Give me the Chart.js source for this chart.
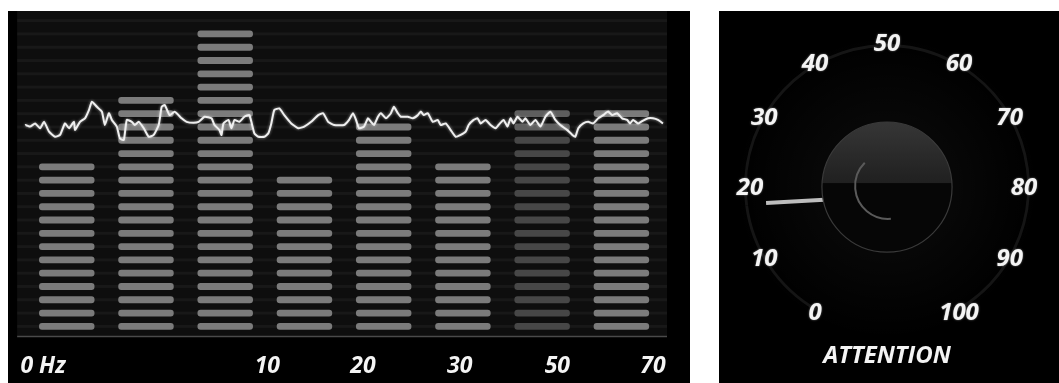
<!DOCTYPE html>
<html><head><meta charset="utf-8">
<script src="https://cdn.jsdelivr.net/npm/chart.js@4.4.1/dist/chart.umd.min.js"></script>
<style>
html,body{margin:0;padding:0;background:#fff;width:1059px;height:383px;overflow:hidden}
#lp{position:absolute;left:8px;top:11px;width:682px;height:372px;background:#000}
#rp{position:absolute;left:719px;top:11px;width:340px;height:372px;background:#000}
canvas{display:block}
</style></head><body>
<div id="lp"><canvas id="c1" width="682" height="372"></canvas></div>
<div id="rp"><canvas id="c2" width="340" height="372"></canvas></div>
<script>
// ---- data ----
const bandNames = ['Delta','Theta','Low Alpha','High Alpha','Low Beta','High Beta','Low Gamma','Mid Gamma'];
const bandLevels = [13,18,23,12,16,13,17,17];
const freqLabels = ['0 Hz','10','20','30','50','70'];
const freqTickPos = [16,241,337,434,532,628];
const rawT = [-7,-2,3,8,13,17,22,28,33,38,42,47,48,53,58,62,65,70,75,78,82,85,90,93,97,100,105,108,112,117,122,127,132,135,138,143,148,155,160,167,172,178,185,188,193,195,197,202,205,208,213,218,223,228,232,238,242,245,248,253,258,265,272,278,285,292,297,302,308,318,323,327,330,333,338,342,345,348,352,355,360,365,368,372,375,382,387,392,395,398,402,407,412,415,420,425,430,435,440,443,448,452,455,460,465,470,473,478,482,485,488,492,497,500,505,510,515,520,525,530,535,542,547,550,553,558,563,568,573,578,583,587,592,597,602,605,608,613,618,623,628,633,638];
const rawAmp = [63.1,65.2,64.7,65.7,64.2,66.2,63.1,61.5,62.1,65.7,64.2,66.2,63.6,66.2,67.3,69.9,72.5,70.9,69.4,65.2,68.9,66.8,64.7,61.0,60.5,66.8,66.2,65.2,66.2,64.2,61.5,62.1,65.2,70.9,71.5,68.3,69.4,67.3,66.2,65.9,66.2,67.8,67.3,65.2,63.6,62.1,65.7,66.8,64.2,66.8,66.2,67.8,68.3,62.6,61.5,61.5,62.6,65.7,69.9,70.4,68.3,65.7,64.2,64.7,66.2,68.3,68.9,66.2,65.2,65.2,66.8,68.9,66.8,64.2,64.7,67.3,66.2,65.2,67.8,68.9,67.3,68.9,70.9,68.9,67.8,67.8,67.3,68.3,69.4,68.3,68.9,66.2,66.8,65.2,65.7,63.6,61.5,62.1,63.1,65.2,66.8,67.3,65.7,66.8,65.2,64.2,65.2,66.8,64.7,67.3,65.7,67.8,66.2,67.3,65.2,66.8,64.7,67.8,69.4,66.8,65.2,63.6,62.1,61.5,64.2,65.7,66.2,65.7,67.3,68.3,69.4,68.3,68.9,67.3,66.8,65.7,66.8,65.7,66.6,67.3,67.3,66.8,65.7];
const attention = 17.5;
const dialTicks = [0,10,20,30,40,50,60,70,80,90,100];
const dialTitle = 'ATTENTION';

// ---- styles ----
const FONT = '"Open Sans", "DejaVu Sans", sans-serif';
function segColor(k, i, n) {
  if (k === 6) return i >= n - 2 ? '#5e5e5e' : '#474747';
  return '#7b7b7b';
}

const bandPanel = {
  id: 'bandPanel',
  beforeDraw(chart) {
    const {ctx, chartArea: a, scales: {y}} = chart;
    const base = y.getPixelForValue(0);
    const L = a.left - 10, R = a.right + 6;
    ctx.save();
    ctx.fillStyle = '#000'; ctx.fillRect(0, 0, chart.width, chart.height);
    ctx.fillStyle = '#0e0e0e'; ctx.fillRect(L, 0, R - L, base + 3);
    ctx.fillStyle = 'rgba(255,255,255,0.045)';
    for (let i = 0; i < 24; i++) {
      const cy = y.getPixelForValue(i + 0.5);
      ctx.fillRect(L, cy - 1.5, R - L, 3);
    }
    ctx.strokeStyle = '#4a4a4a'; ctx.lineWidth = 1.5;
    ctx.beginPath(); ctx.moveTo(L, base + 3.5); ctx.lineTo(R, base + 3.5); ctx.stroke();
    ctx.restore();
  },
  beforeDatasetDraw(chart, args) {
    if (args.index === 1) {
      chart.ctx.save();
      chart.ctx.shadowColor = 'rgba(255,255,255,0.6)';
      chart.ctx.shadowBlur = 3;
    }
  },
  afterDatasetDraw(chart, args) {
    const ctx = chart.ctx;
    if (args.index === 1) { ctx.restore(); return; }
    if (args.index === 0) {
      const y = chart.scales.y;
      args.meta.data.forEach((el, k) => {
        const n = bandLevels[k];
        const w = el.width, left = el.x - w / 2;
        for (let i = 0; i < n; i++) {
          const cy = y.getPixelForValue(i + 0.5);
          ctx.fillStyle = segColor(k, i, n);
          ctx.beginPath(); ctx.roundRect(left, cy - 3.4, w, 6.8, 3); ctx.fill();
        }
      });
    }
  }
};

new Chart(document.getElementById('c1'), {
  type: 'bar',
  data: {
    labels: bandNames,
    datasets: [
      {type: 'bar', label: 'Band power', data: bandLevels, xAxisID: 'x', yAxisID: 'y', grouped: false,
       backgroundColor: 'rgba(0,0,0,0)', borderWidth: 0, barPercentage: 0.7, categoryPercentage: 1, order: 2},
      {type: 'line', label: 'Raw EEG', data: rawT.map((t, i) => ({x: t, y: rawAmp[i]})),
       xAxisID: 'xt', yAxisID: 'ya', borderColor: '#efefef', borderWidth: 2, pointRadius: 0,
       tension: 0.15, clip: false, order: 1}
    ]
  },
  options: {
    responsive: false, animation: false,
    layout: {padding: {left: 17, right: 29, top: 3, bottom: 0}},
    plugins: {legend: {display: false}, tooltip: {enabled: false}},
    scales: {
      x: {type: 'category', display: false, offset: true},
      y: {type: 'linear', min: 0, max: 24, display: false},
      xt: {type: 'linear', position: 'bottom', min: 0, max: 636, offset: false,
        grid: {display: false, offset: false}, border: {display: false},
        afterBuildTicks: s => { s.ticks = freqTickPos.map(v => ({value: v})); },
        afterFit: s => { s.height = 50; },
        ticks: {color: '#f4f4f4', padding: 12, maxRotation: 0, minRotation: 0, autoSkip: false,
          font: {family: FONT, size: 23, style: 'italic', weight: 'bold'},
          callback: (v, i) => freqLabels[i]}},
      ya: {type: 'linear', min: 0, max: 100, display: false}
    }
  },
  plugins: [bandPanel]
});

const dialPlugin = {
  id: 'dialPlugin',
  beforeDraw(chart) {
    const ctx = chart.ctx;
    ctx.save();
    ctx.fillStyle = '#000'; ctx.fillRect(0, 0, chart.width, chart.height);
    const el = chart.getDatasetMeta(0).data[0];
    if (el) {
      const g = ctx.createRadialGradient(el.x, el.y, 0, el.x, el.y, el.outerRadius + 10);
      g.addColorStop(0, 'rgba(255,255,255,0.05)');
      g.addColorStop(1, 'rgba(255,255,255,0)');
      ctx.fillStyle = g; ctx.fillRect(0, 0, chart.width, chart.height);
    }
    ctx.restore();
  },
  afterDatasetsDraw(chart) {
    const ctx = chart.ctx;
    const meta = chart.getDatasetMeta(0);
    const a0 = meta.data[0], a1 = meta.data[1];
    const cx = a0.x, cy = a0.y, R = a0.outerRadius;
    const start = a0.startAngle, end = a1.endAngle;
    ctx.save();
    // needle
    const na = a0.endAngle;
    const kr = R * 0.455;
    ctx.strokeStyle = '#bdbdbd'; ctx.lineWidth = 4;
    ctx.beginPath();
    ctx.moveTo(cx + (R * 0.853) * Math.cos(na), cy + (R * 0.853) * Math.sin(na));
    ctx.lineTo(cx + (kr - 1) * Math.cos(na - 0.07), cy + (kr - 1) * Math.sin(na - 0.07));
    ctx.stroke();
    // knob
    ctx.save();
    ctx.beginPath(); ctx.arc(cx, cy, kr, 0, Math.PI * 2); ctx.clip();
    ctx.fillStyle = '#060606'; ctx.fillRect(cx - kr, cy - kr, kr * 2, kr * 2);
    const g = ctx.createLinearGradient(0, cy - kr, 0, cy - 4);
    g.addColorStop(0, '#363636'); g.addColorStop(1, '#202020');
    ctx.fillStyle = g; ctx.fillRect(cx - kr, cy - kr, kr * 2, kr - 4);
    ctx.restore();
    ctx.strokeStyle = '#3a3a3a'; ctx.lineWidth = 1.2;
    ctx.beginPath(); ctx.arc(cx, cy, kr, 0, Math.PI * 2); ctx.stroke();
    ctx.strokeStyle = '#5a5a5a'; ctx.lineWidth = 2;
    ctx.beginPath(); ctx.arc(cx + 1, cy - 1, R * 0.23, 85 * Math.PI / 180, 225 * Math.PI / 180, false); ctx.stroke();
    // labels
    ctx.fillStyle = '#f4f4f4';
    ctx.shadowColor = 'rgba(255,255,255,0.5)'; ctx.shadowBlur = 2;
    ctx.font = 'italic bold 24px ' + FONT;
    ctx.textAlign = 'center'; ctx.textBaseline = 'middle';
    dialTicks.forEach(v => {
      const ang = start + (end - start) * v / 100;
      const r = R + 1 - 7 * Math.pow(Math.cos(ang), 8);
      ctx.fillText(String(v), cx + r * Math.cos(ang), cy + 1.5 + r * Math.sin(ang));
    });
    ctx.restore();
  }
};

new Chart(document.getElementById('c2'), {
  type: 'doughnut',
  data: {labels: ['Attention', 'Remaining'],
    datasets: [{data: [attention, 100 - attention], backgroundColor: ['#151515', '#151515'],
      borderWidth: 0, hoverOffset: 0, offset: 0}]},
  options: {
    responsive: false, animation: false, rotation: 210, circumference: 300, cutout: '98%',
    layout: {padding: {left: 25, right: 29, top: 33, bottom: 8.6}},
    plugins: {legend: {display: false}, tooltip: {enabled: false},
      title: {display: true, position: 'bottom', text: dialTitle, color: '#f4f4f4',
        font: {family: FONT, size: 24, style: 'italic', weight: 'bold'}, padding: {top: 30.6, bottom: 4}}}
  },
  plugins: [dialPlugin]
});
</script>
</body></html>
